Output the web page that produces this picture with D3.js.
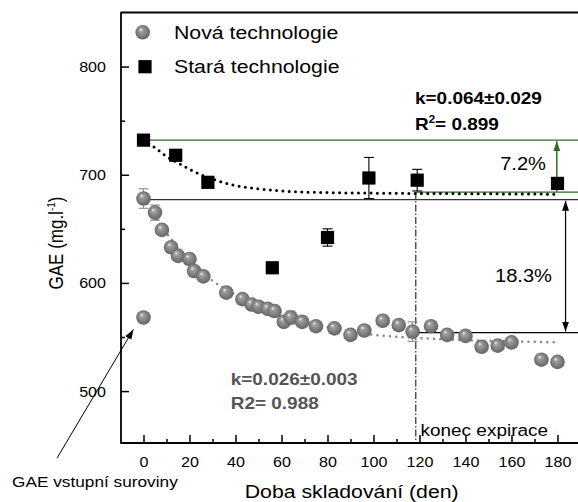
<!DOCTYPE html>
<html><head><meta charset="utf-8">
<script src="https://cdn.jsdelivr.net/npm/d3@7"></script>
<style>
html,body{margin:0;padding:0;background:#fff;}
svg{display:block;font-family:"Liberation Sans",Arial,Helvetica,sans-serif;}
</style></head>
<body>
<svg id="chart" width="578" height="502"></svg>
<script>
// ---------- data ----------
const novaDays = [0,0,5,8,12,15,20,22,26,36,43,47,50,54,57,61,64,69,75,83,90,96,104,111,117,125,132,140,147,154,160,173,180];
const novaGAE  = [568,678,665,649,633,625,622,611,606,591,585,580,578,576,574,564,568,564,560,558,552,556,565,561,555,560,552,551,541,542,545,529,527];
const novaErr  = [0,9,7,0,0,0,0,0,0,0,0,0,0,0,0,0,6,0,0,0,0,0,0,0,9,0,0,0,3,0,0,0,0];

const staraDays = [0,14,28,56,80,98,119,180];
const staraGAE  = [732,718,693,614,642,697,695,692];
const staraErr  = [0,4,0,0,8,19,10,0];

const staraFitDays = [0,5,10,15,20,25,30,40,50,60,80,100,140,180];
const staraFitGAE  = [732,725,717,711,705,700,696,690,687,685,683.5,683,682.5,682];
const novaFitDays  = [0,5,10,15,20,25,30,40,50,60,70,80,90,100,120,140,160,180];
const novaFitGAE   = [678,662,646,633,621,611,602,589,578,570,564,559,555,552,549,547,546,545];

const xTicks = [0,20,40,60,80,100,120,140,160,180];
const xMinor = [10,30,50,70,90,110,130,150,170];
const yTicks = [500,600,700,800];
const yMinor = [550,650,750];

const legendLabels = ["Nová technologie","Stará technologie"];
const xTitle = "Doba skladování (den)";
const annot = {
  kStara: "k=0.064±0.029", r2Stara: "0.899",
  kNova: "k=0.026±0.003", r2Nova: "R2= 0.988",
  pctStara: "7.2%", pctNova: "18.3%",
  expir: "konec expirace", raw: "GAE vstupní suroviny"
};

// ---------- setup ----------
const S = 1.15; // horizontal text stretch of the original
const svg = d3.select("#chart");
const x = d3.scaleLinear().domain([-10,190]).range([120.5,580.5]);
const y = d3.scaleLinear().domain([452,850]).range([443,12.5]);
const GREEN = "#2e6b22";

const defs = svg.append("defs");
const rg = defs.append("radialGradient").attr("id","ball").attr("cx","0.5").attr("cy","0.5").attr("r","0.55").attr("fx","0.36").attr("fy","0.3");
rg.append("stop").attr("offset","0").attr("stop-color","#f8f8f8");
rg.append("stop").attr("offset","0.22").attr("stop-color","#a0a0a0");
rg.append("stop").attr("offset","0.7").attr("stop-color","#777");
rg.append("stop").attr("offset","1").attr("stop-color","#5e5e5e");
function marker(id,color){
  defs.append("marker").attr("id",id).attr("viewBox","0 0 10 10").attr("refX",10).attr("refY",5)
    .attr("markerWidth",10).attr("markerHeight",10).attr("markerUnits","userSpaceOnUse").attr("orient","auto-start-reverse")
    .append("path").attr("d","M0,1.5 L10,5 L0,8.5 Z").attr("fill",color);
}
marker("arrK","#000"); marker("arrG",GREEN);

function stext(g,px,py,str,size,opts={}){
  const t = g.append("text").attr("transform",`translate(${px},${py}) scale(${S},1)`)
    .attr("font-size",size).attr("fill",opts.fill||"#000")
    .attr("font-weight",opts.weight||"normal").attr("text-anchor",opts.anchor||"start");
  t.text(str);
  return t;
}

// ---------- axes ----------
const axX = svg.append("g").attr("transform","translate(0,443)")
  .call(d3.axisBottom(x).tickValues(xTicks).tickSize(-8).tickPadding(0).tickFormat(d3.format("d")));
const axXm = svg.append("g").attr("transform","translate(0,443)")
  .call(d3.axisBottom(x).tickValues(xMinor).tickSize(-4).tickFormat(""));
const axY = svg.append("g").attr("transform","translate(121,0)")
  .call(d3.axisLeft(y).tickValues(yTicks).tickSize(-8).tickPadding(0).tickFormat(d3.format("d")));
const axYm = svg.append("g").attr("transform","translate(121,0)")
  .call(d3.axisLeft(y).tickValues(yMinor).tickSize(-4).tickFormat(""));
[axX,axXm,axY,axYm].forEach(a=>{
  a.select(".domain").remove();
  a.selectAll(".tick line").attr("stroke","#000").attr("stroke-width",1.5);
});
axX.selectAll(".tick text").attr("y",null).attr("dy",null)
  .attr("transform",`translate(0,24) scale(${S},1)`)
  .attr("font-size",14).attr("font-family","Liberation Sans, Arial, sans-serif").attr("fill","#000");
axY.selectAll(".tick text").attr("x",null).attr("dy",null).attr("text-anchor","end")
  .attr("transform",`translate(-15,5) scale(${S},1)`)
  .attr("font-size",14).attr("font-family","Liberation Sans, Arial, sans-serif").attr("fill","#000");

// frame
const frame = svg.append("g").attr("fill","none").attr("stroke","#000").attr("stroke-width",1.8);
frame.append("line").attr("x1",121).attr("x2",121).attr("y1",y.range()[1]).attr("y2",443.5);
frame.append("line").attr("x1",120.5).attr("x2",x.range()[1]).attr("y1",443).attr("y2",443);
frame.append("line").attr("x1",120.5).attr("x2",x.range()[1]).attr("y1",y.range()[1]).attr("y2",y.range()[1]);
frame.append("line").attr("x1",x.range()[1]).attr("x2",x.range()[1]).attr("y1",y.range()[1]).attr("y2",443);

// ---------- reference lines ----------
const ref = svg.append("g");
const xr = x.range()[1];
ref.append("line").attr("x1",x(0)).attr("x2",xr).attr("y1",y(732)).attr("y2",y(732)).attr("stroke",GREEN).attr("stroke-width",1.3);
ref.append("line").attr("x1",x(118.4)).attr("x2",xr).attr("y1",y(684)).attr("y2",y(684)).attr("stroke",GREEN).attr("stroke-width",1.3);
ref.append("line").attr("x1",x(0)).attr("x2",xr).attr("y1",y(677)).attr("y2",y(677)).attr("stroke","#333").attr("stroke-width",1.3);
ref.append("line").attr("x1",x(118.4)).attr("x2",xr).attr("y1",y(554)).attr("y2",y(554)).attr("stroke","#000").attr("stroke-width",1.3);
ref.append("line").attr("x1",x(118.4)).attr("x2",x(118.4)).attr("y1",y(684)).attr("y2",443)
  .attr("stroke","#000").attr("stroke-width",1).attr("stroke-dasharray","7,2,1.5,2");
// double arrows
ref.append("line").attr("x1",x(179.7)).attr("x2",x(179.7)).attr("y1",y(731)).attr("y2",y(684.5))
  .attr("stroke",GREEN).attr("stroke-width",1.5).attr("marker-start","url(#arrG)").attr("marker-end","url(#arrG)");
ref.append("line").attr("x1",x(183.5)).attr("x2",x(183.5)).attr("y1",y(676)).attr("y2",y(555))
  .attr("stroke","#000").attr("stroke-width",1.2).attr("marker-start","url(#arrK)").attr("marker-end","url(#arrK)");
// arrow to raw material point
ref.append("line").attr("x1",x(-37.6)).attr("y1",y(438)).attr("x2",x(-4.4)).attr("y2",y(557))
  .attr("stroke","#000").attr("stroke-width",1).attr("marker-end","url(#arrK)");

// ---------- fit curves ----------
const line = d3.line().x(d=>x(d[0])).y(d=>y(d[1])).curve(d3.curveMonotoneX);
svg.append("path").datum(novaFitDays.map((d,i)=>[d,novaFitGAE[i]])).attr("d",line)
  .attr("fill","none").attr("stroke","#8a8a8a").attr("stroke-width",2.6).attr("stroke-linecap","round").attr("stroke-dasharray","0,6.3");
svg.append("path").datum(staraFitDays.map((d,i)=>[d,staraFitGAE[i]])).attr("d",line)
  .attr("fill","none").attr("stroke","#000").attr("stroke-width",3).attr("stroke-linecap","round").attr("stroke-dasharray","0,6.3");

// ---------- error bars ----------
function errBars(days,vals,errs,color){
  const g = svg.append("g").attr("stroke",color).attr("stroke-width",1.1);
  days.forEach((d,i)=>{
    if(!errs[i]) return;
    const cx = x(d);
    g.append("line").attr("x1",cx).attr("x2",cx).attr("y1",y(vals[i]+errs[i])).attr("y2",y(vals[i]-errs[i]));
    [1,-1].forEach(s=>g.append("line").attr("x1",cx-5).attr("x2",cx+5).attr("y1",y(vals[i]+s*errs[i])).attr("y2",y(vals[i]+s*errs[i])));
  });
}
errBars(novaDays,novaGAE,novaErr,"#8a8a8a");
errBars(staraDays,staraGAE,staraErr,"#000");

// ---------- points ----------
svg.append("g").selectAll("circle").data(novaDays.map((d,i)=>[d,novaGAE[i]])).join("circle")
  .attr("cx",d=>x(d[0])).attr("cy",d=>y(d[1])).attr("r",7.3).attr("fill","url(#ball)");
svg.append("g").selectAll("rect").data(staraDays.map((d,i)=>[d,staraGAE[i]])).join("rect")
  .attr("x",d=>x(d[0])-6.6).attr("y",d=>y(d[1])-6.6).attr("width",13.2).attr("height",13.2).attr("fill","#000");

// ---------- legend ----------
const lg = svg.append("g");
lg.append("circle").attr("cx",142.7).attr("cy",32.3).attr("r",7.3).attr("fill","url(#ball)");
lg.append("rect").attr("x",145-6.6).attr("y",66.7-6.6).attr("width",13.2).attr("height",13.2).attr("fill","#000");
stext(lg,174,38.5,legendLabels[0],18.5);
stext(lg,174,72.8,legendLabels[1],18.5);

// ---------- annotations ----------
const an = svg.append("g");
stext(an,415,103.5,annot.kStara,16.5,{weight:"bold"});
const r2 = stext(an,415,130,"R",16.5,{weight:"bold"});
r2.append("tspan").attr("font-size",10).attr("dy",-7).text("2");
r2.append("tspan").attr("dy",7).text("= "+annot.r2Stara);
stext(an,230.7,385,annot.kNova,16.5,{weight:"bold",fill:"#555"});
stext(an,230.7,408.5,annot.r2Nova,16.5,{weight:"bold",fill:"#555"});
stext(an,546,170,annot.pctStara,17.5,{anchor:"end"});
stext(an,552,282,annot.pctNova,17.5,{anchor:"end"});
stext(an,420.5,436,annot.expir,16.5);
stext(an,12,486.5,annot.raw,15);

// axis titles
stext(svg,351.7,498,xTitle,18.5,{anchor:"middle"});
svg.append("text").attr("transform",`translate(63,243) scale(${S},1) rotate(-90)`)
  .attr("text-anchor","middle").attr("font-size",17).attr("fill","#000")
  .call(t=>{
    t.append("tspan").text("GAE (mg.l");
    t.append("tspan").attr("font-size",10).attr("dy",-7).text("-1");
    t.append("tspan").attr("dy",7).text(")");
  });
</script>
</body></html>
